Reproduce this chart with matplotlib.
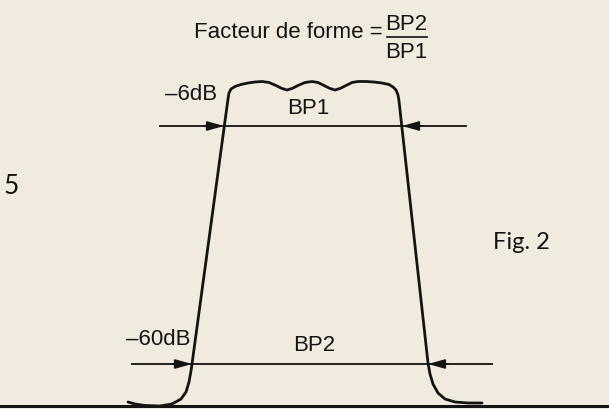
import matplotlib
matplotlib.use('Agg')
import matplotlib.pyplot as plt

# filter response outline (x right, y down, in picture units)
curve_x = [128, 135, 145, 160, 172, 181, 186, 189, 191, 192,
           228, 229, 231, 235, 241, 248, 255,
           262, 269, 276, 282, 287, 292, 298, 305,
           312, 318, 324, 330, 335, 340, 346, 352,
           358, 366, 374, 382, 389, 393, 396, 398, 399,
           428, 430, 433, 438, 445, 455, 468, 482]
curve_y = [403, 405, 406.5, 407, 405, 400, 393, 383, 372, 365,
           100, 94, 90, 87.5, 85.5, 84, 83,
           82.5, 83.5, 86.5, 89.5, 91, 89.5, 86.5, 83.5,
           82.5, 83.5, 86.5, 89.5, 91, 89.5, 86.5, 83.5,
           82.5, 82.5, 83, 84, 85.5, 88, 91, 96, 102,
           364, 375, 385, 394, 400, 403, 404, 404]

# bandwidth markers: level, bar extent, arrow tips
bp1_y, bp1_span, bp1_tips = 127, (160, 466), (224, 402)
bp2_y, bp2_span, bp2_tips = 365, (132, 492), (192, 428)
baseline_y = 407

bg = '#f1eadf'
ink = '#141414'

fig = plt.figure(figsize=(6.09, 4.10), dpi=100, facecolor=bg)
ax = fig.add_axes([0, 0, 1, 1])
ax.set_facecolor(bg)
ax.set_xlim(0, 609)
ax.set_ylim(410, 0)
ax.axis('off')

ax.plot(curve_x, curve_y, color=ink, lw=2.0, solid_capstyle='round', solid_joinstyle='round')
ax.plot([0, 609], [baseline_y, baseline_y], color=ink, lw=2.2)

for y, span, tips in [(bp1_y, bp1_span, bp1_tips), (bp2_y, bp2_span, bp2_tips)]:
    ax.plot(span, [y, y], color=ink, lw=1.3)
    arrow = dict(arrowstyle='-|>,head_length=1.0,head_width=0.28', color=ink, lw=1.3,
                 shrinkA=0, shrinkB=0)
    ax.annotate('', xy=(tips[0], y), xytext=(tips[0] - 20, y), arrowprops=arrow)
    ax.annotate('', xy=(tips[1], y), xytext=(tips[1] + 20, y), arrowprops=arrow)

sans = 'Liberation Sans'
fs = 16
ax.text(383, 32, 'Facteur de forme =', ha='right', va='center', fontsize=fs, family=sans, color=ink)
ax.text(406, 24, 'BP2', ha='center', va='center', fontsize=fs, family=sans, color=ink)
ax.text(406, 52, 'BP1', ha='center', va='center', fontsize=fs, family=sans, color=ink)
ax.plot([387, 427], [37.5, 37.5], color=ink, lw=1.2)

ax.text(217, 95, '\u20136dB', ha='right', va='center', fontsize=fs, family=sans, color=ink)
ax.text(308, 108, 'BP1', ha='center', va='center', fontsize=fs, family=sans, color=ink)
ax.text(190, 340, '\u201360dB', ha='right', va='center', fontsize=fs, family=sans, color=ink)
ax.text(314, 346, 'BP2', ha='center', va='center', fontsize=fs, family=sans, color=ink)

ax.text(11, 187, '5', ha='center', va='center', fontsize=19, family='Lato', color=ink)
ax.text(493, 243, 'Fig. 2', ha='left', va='center', fontsize=17, family='Lato', color=ink)

fig.savefig('out.png', dpi=100, facecolor=bg)
